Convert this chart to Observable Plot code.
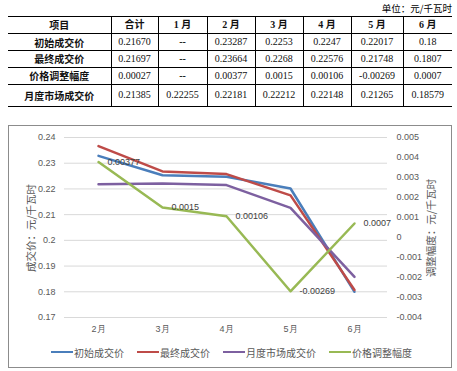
<!DOCTYPE html>
<html><head><meta charset="utf-8">
<script src="https://cdn.jsdelivr.net/npm/d3@7"></script>
<script src="https://cdn.jsdelivr.net/npm/@observablehq/plot@0.6"></script>
<style>
body{margin:0;background:#fff;width:457px;height:371px;position:relative;overflow:hidden}
#unit{position:absolute;right:5px;top:1px;font:9.5px "Noto Sans CJK SC";color:#000}
#tbl{position:absolute;left:8px;top:16px;width:444px;border-collapse:collapse;table-layout:fixed;border-top:1.5px solid #000;border-bottom:1.5px solid #000}
#tbl td{padding:0;text-align:center;border-bottom:1px solid #000;border-left:1px solid #000;font:10px "Liberation Serif";color:#111;line-height:12px;white-space:pre}
#tbl td:first-child{border-left:none}
#tbl td.b{font:bold 10px "Noto Sans CJK SC";}
#tbl td.dash{font-weight:bold}
#tbl tr.h td{font-weight:bold;font-family:"Liberation Serif","Noto Sans CJK SC"}
#frame{position:absolute;left:8px;top:125px;width:444px;height:243px;box-sizing:border-box;border:1px solid #8c8c8c}
#chart{position:absolute;left:0;top:125px}
.ytitle{position:absolute;font:10.5px "Noto Sans CJK SC";color:#595959;white-space:nowrap;transform:translate(-50%,-50%) rotate(-90deg)}
.leg{position:absolute;top:344px;font:10px "Noto Sans CJK SC";color:#595959;white-space:nowrap;display:flex;align-items:center;height:16px}
.leg span.sw{display:inline-block;width:22px;height:2.5px;margin-right:1px}
</style></head>
<body>
<div id="unit">单位：元/千瓦时</div>
<table id="tbl"></table>
<div id="frame"></div>
<div id="chart"></div>
<div class="ytitle" style="left:30px;top:228px">成交价：元/千瓦时</div>
<div class="ytitle" style="left:430px;top:228px">调整幅度：元/千瓦时</div>
<div id="legend"></div>
<script>
// ---- table data ----
const tableHeader = ["项目","合计","1 月","2 月","3 月","4 月","5 月","6 月"];
const tableRowNames = ["初始成交价","最终成交价","价格调整幅度","月度市场成交价"];
const rowInitial = ["0.21670","--","0.23287","0.2253","0.2247","0.22017","0.18"];
const rowFinal = ["0.21697","--","0.23664","0.2268","0.22576","0.21748","0.1807"];
const rowAdjust = ["0.00027","--","0.00377","0.0015","0.00106","-0.00269","0.0007"];
const rowMarket = ["0.21385","0.22255","0.22181","0.22212","0.22148","0.21265","0.18579"];

// ---- chart data ----
const months = ["2月","3月","4月","5月","6月"];
const initialPrice = [0.23287,0.2253,0.2247,0.22017,0.18];
const finalPrice = [0.23664,0.2268,0.22576,0.21748,0.1807];
const marketPrice = [0.22181,0.22212,0.22148,0.21265,0.18579];
const adjustment = [0.00377,0.0015,0.00106,-0.00269,0.0007];
const adjustLabels = ["0.00377","0.0015","0.00106","-0.00269","0.0007"];
const leftTicks = [0.17,0.18,0.19,0.2,0.21,0.22,0.23,0.24];
const rightTicks = [-0.004,-0.003,-0.002,-0.001,0,0.001,0.002,0.003,0.004,0.005];
const seriesNames = ["初始成交价","最终成交价","月度市场成交价","价格调整幅度"];
const seriesColors = ["#4a7ebb","#be4b48","#7d60a0","#98b954"];

// build table
const colW = [103,47,49,48,48,48,52,49];
const tbl = document.getElementById("tbl");
const cg = document.createElement("colgroup");
colW.forEach(w => { const c = document.createElement("col"); c.style.width = w + "px"; cg.appendChild(c); });
tbl.appendChild(cg);
const rowsData = [rowInitial,rowFinal,rowAdjust,rowMarket];
const heights = [17,17,16.5,17,22];
const hr = document.createElement("tr"); hr.className = "h"; hr.style.height = heights[0] + "px";
tableHeader.forEach((t, i) => {
  const td = document.createElement("td");
  if (i === 0) td.style.fontFamily = '"Noto Sans CJK SC"';
  td.textContent = t; hr.appendChild(td);
});
tbl.appendChild(hr);
rowsData.forEach((r, i) => {
  const tr = document.createElement("tr"); tr.style.height = heights[i+1] + "px";
  const th = document.createElement("td"); th.className = "b"; th.textContent = tableRowNames[i]; tr.appendChild(th);
  r.forEach(v => { const td = document.createElement("td"); td.textContent = v; if (v === "--") td.className = "dash"; tr.appendChild(td); });
  tbl.appendChild(tr);
});

// dual axis mapping
const L = [0.17, 0.24], R = [-0.004, 0.005];
const toLeft = r => L[0] + (r - R[0]) / (R[1] - R[0]) * (L[1] - L[0]);
const fromLeft = v => R[0] + (v - L[0]) / (L[1] - L[0]) * (R[1] - R[0]);

const mk = arr => months.map((m, i) => ({month: m, value: arr[i]}));
const adjData = months.map((m, i) => ({month: m, value: toLeft(adjustment[i]), label: adjustLabels[i]}));

const plot = Plot.plot({
  width: 457, height: 243,
  marginLeft: 64, marginRight: 70, marginTop: 12, marginBottom: 51,
  style: {fontFamily: "Liberation Sans, Arial, sans-serif", fontSize: "9px", background: "transparent"},
  x: {type: "point", domain: months, padding: 0.5},
  y: {domain: L},
  marks: [
    Plot.ruleY(leftTicks, {stroke: "#d9d9d9", strokeWidth: 1}),
    Plot.axisY(leftTicks, {anchor: "left", tickSize: 0, tickPadding: 9, tickFormat: d => String(d), label: null, fill: "#595959"}),
    Plot.axisY(rightTicks.map(toLeft), {anchor: "right", tickSize: 0, tickPadding: 9, tickFormat: v => String(+fromLeft(v).toFixed(4)), label: null, fill: "#595959", textAnchor: "start"}),
    Plot.axisX({tickSize: 0, tickPadding: 8, label: null, fill: "#595959"}),
    Plot.line(mk(initialPrice), {x: "month", y: "value", stroke: seriesColors[0], strokeWidth: 2.5}),
    Plot.line(mk(finalPrice), {x: "month", y: "value", stroke: seriesColors[1], strokeWidth: 2.5}),
    Plot.line(mk(marketPrice), {x: "month", y: "value", stroke: seriesColors[2], strokeWidth: 2.5}),
    Plot.line(adjData, {x: "month", y: "value", stroke: seriesColors[3], strokeWidth: 2.5}),
    Plot.text(adjData, {x: "month", y: "value", text: "label", textAnchor: "start", dx: 9, fill: "#404040", fontSize: 9})
  ]
});
document.getElementById("chart").appendChild(plot);

// legend
const legX = [51,137,223,329];
const legend = document.getElementById("legend");
seriesNames.forEach((n, i) => {
  const d = document.createElement("div"); d.className = "leg"; d.style.left = legX[i] + "px";
  d.innerHTML = `<span class="sw" style="background:${seriesColors[i]}"></span>${n}`;
  legend.appendChild(d);
});
</script>
</body></html>
